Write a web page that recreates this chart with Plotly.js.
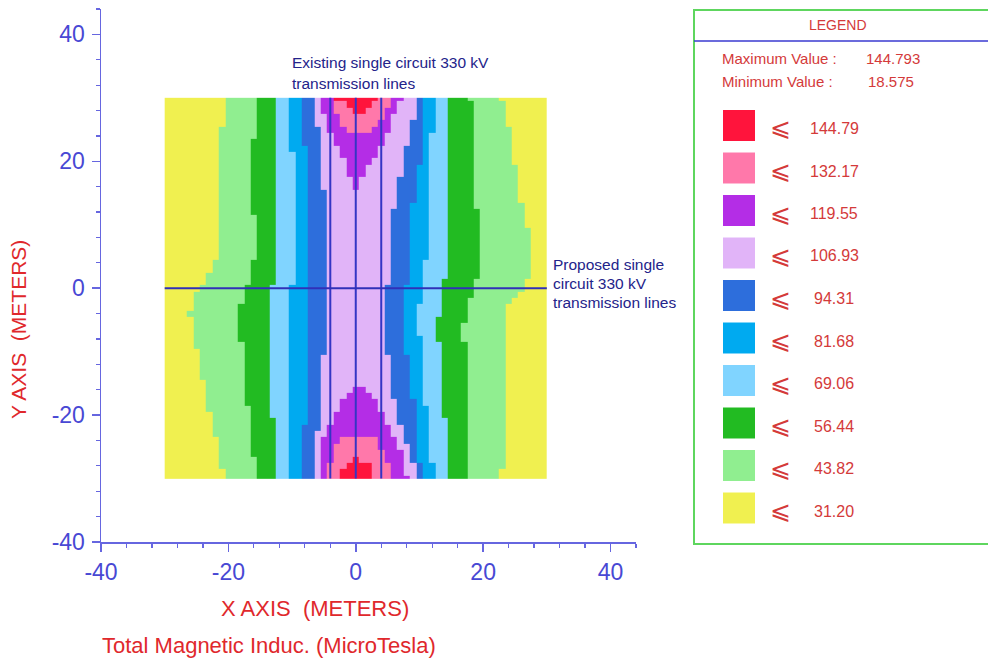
<!DOCTYPE html>
<html>
<head>
<meta charset="utf-8">
<script src="https://cdn.plot.ly/plotly-3.0.1.min.js"></script>
<style>
  html, body { margin: 0; padding: 0; background: #ffffff; }
  #chart { width: 988px; height: 662px; }
</style>
</head>
<body>
<div id="chart"></div>
<script>
// Total magnetic induction (microtesla) around two 330 kV circuits.
// Grid points every metre from -30 m to 30 m in both directions.
const gridX = [-30,-29,-28,-27,-26,-25,-24,-23,-22,-21,-20,-19,-18,-17,-16,-15,-14,-13,-12,-11,-10,-9,-8,-7,-6,-5,-4,-3,-2,-1,0,1,2,3,4,5,6,7,8,9,10,11,12,13,14,15,16,17,18,19,20,21,22,23,24,25,26,27,28,29,30];
// Rows listed from y = 30 m (north) down to y = -30 m (south).
const gridY = [30,29,28,27,26,25,24,23,22,21,20,19,18,17,16,15,14,13,12,11,10,9,8,7,6,5,4,3,2,1,0,-1,-2,-3,-4,-5,-6,-7,-8,-9,-10,-11,-12,-13,-14,-15,-16,-17,-18,-19,-20,-21,-22,-23,-24,-25,-26,-27,-28,-29,-30];

// Band thresholds (microtesla); band k holds values between levels[k] and levels[k+1].
const levels = [18.575, 31.20, 43.82, 56.44, 69.06, 81.68, 94.31, 106.93, 119.55, 132.17, 144.793];
const bandColors = ['#f0f050', '#90ee90', '#22bb22', '#80d4ff', '#00aaf0', '#2d6edc', '#e1b4f8', '#b42de6', '#ff78aa', '#ff143c'];

// Axis tick labels
const tickVals = [-40, -20, 0, 20, 40];
const tickText = ['-40', '-20', '0', '20', '40'];

// West side of each row: first x (m) reaching band 1..6.
const westBand1 = [-20,-20,-20,-20,-20,-21,-21,-21,-21,-21,-21,-21,-21,-21,-21,-21,-21,-21,-21,-21,-21,-21,-21,-21,-21,-21,-22,-22,-23,-23,-24,-25,-25,-25,-26,-25,-25,-25,-25,-25,-24,-24,-24,-24,-24,-23,-23,-23,-23,-23,-22,-22,-22,-22,-21,-21,-21,-21,-21,-20,-20];
const westBand2 = [-15,-15,-15,-15,-15,-15,-15,-16,-16,-16,-16,-16,-16,-16,-16,-16,-16,-16,-16,-15,-15,-15,-15,-15,-15,-15,-16,-16,-16,-16,-17,-17,-17,-18,-18,-18,-18,-18,-18,-17,-17,-17,-17,-17,-17,-17,-17,-17,-17,-16,-16,-16,-16,-16,-16,-16,-16,-15,-15,-15,-15];
const westBand3 = [-12,-12,-12,-12,-12,-12,-12,-12,-12,-12,-12,-12,-12,-12,-12,-12,-12,-12,-12,-12,-12,-12,-12,-12,-12,-12,-12,-12,-12,-12,-13,-13,-13,-13,-13,-13,-13,-13,-13,-13,-13,-13,-13,-13,-13,-13,-13,-13,-13,-13,-13,-12,-12,-12,-12,-12,-12,-12,-12,-12,-12];
const westBand4 = [-10,-10,-10,-10,-10,-10,-10,-10,-10,-9,-9,-9,-9,-9,-9,-9,-9,-9,-9,-9,-9,-9,-9,-9,-9,-9,-9,-9,-9,-9,-10,-10,-10,-10,-10,-10,-10,-10,-10,-10,-10,-10,-10,-10,-10,-10,-10,-10,-10,-10,-10,-10,-10,-10,-10,-10,-10,-10,-10,-10,-10];
const westBand5 = [-8,-8,-8,-8,-8,-8,-8,-8,-7,-7,-7,-7,-7,-7,-7,-7,-7,-7,-7,-7,-7,-7,-7,-7,-7,-7,-7,-7,-7,-7,-7,-7,-7,-7,-7,-7,-7,-7,-7,-7,-7,-7,-7,-7,-7,-7,-7,-7,-7,-7,-7,-7,-8,-8,-8,-8,-8,-8,-8,-8,-8];
const westBand6 = [-6,-6,-6,-6,-6,-5,-5,-5,-5,-5,-5,-5,-5,-5,-5,-4,-4,-4,-4,-4,-4,-4,-4,-4,-4,-4,-4,-4,-4,-4,-4,-4,-4,-4,-4,-4,-4,-4,-4,-4,-4,-5,-5,-5,-5,-5,-5,-5,-5,-5,-5,-5,-5,-6,-6,-6,-6,-6,-6,-6,-6];

// East side of each row: last x (m) still inside band 6..1.
const eastBand6 = [9,9,9,9,8,8,8,8,7,7,7,7,7,6,6,6,6,6,5,5,5,5,5,5,5,5,5,5,5,5,4,4,4,4,4,4,4,4,4,4,4,5,5,5,5,5,5,5,6,6,6,6,7,7,7,8,8,8,9,9,9];
const eastBand5 = [10,10,10,10,10,10,10,10,10,10,10,9,9,9,9,9,9,8,8,8,8,8,8,8,8,8,8,8,8,8,7,7,7,7,7,7,7,7,7,7,7,8,8,8,8,8,8,8,9,9,9,9,9,9,9,9,9,9,10,10,10];
const eastBand4 = [12,12,12,12,12,12,11,11,11,11,11,11,11,11,11,11,11,11,11,11,11,11,11,11,11,11,10,10,10,10,10,10,10,9,9,9,9,9,10,10,10,10,10,10,10,10,10,10,10,11,11,11,11,11,11,11,11,11,12,12,12];
const eastBand3 = [14,14,14,14,14,14,14,14,14,14,14,14,14,14,14,14,14,14,14,14,14,14,14,14,14,14,14,14,14,13,13,13,13,13,13,12,12,12,12,13,13,13,13,13,13,13,13,13,13,13,13,14,14,14,14,14,14,14,14,14,14];
const eastBand2 = [17,18,18,18,18,18,18,18,18,18,18,18,18,18,18,18,18,18,19,19,19,19,19,19,19,19,19,19,19,18,18,18,17,17,17,17,16,16,16,17,17,17,17,17,17,17,17,17,17,17,17,17,17,17,17,17,17,17,17,17,17];
const eastBand1 = [22,23,23,23,23,24,24,24,24,24,24,25,25,25,25,25,25,26,26,26,26,27,27,27,27,27,27,27,27,26,26,25,24,23,23,23,23,23,23,23,23,23,23,23,23,23,23,23,23,23,23,23,23,23,23,23,23,23,23,22,22];

// Hot cores near both ends of the existing corridor (null = band not reached).
const band7West = [-5,-5,-5,-4,-4,-4,-3,-3,-2,-2,-1,-1,-1,0,0,null,null,null,null,null,null,null,null,null,null,null,null,null,null,null,null,null,null,null,null,null,null,null,null,null,null,null,null,null,null,null,0,-1,-2,-2,-3,-3,-4,-4,-5,-5,-5,-5,-5,-5,-5];
const band7East = [7,6,6,5,5,5,4,4,3,3,2,1,1,0,0,null,null,null,null,null,null,null,null,null,null,null,null,null,null,null,null,null,null,null,null,null,null,null,null,null,null,null,null,null,null,null,1,2,3,3,4,4,5,5,6,6,7,7,7,7,8];
const band8West = [-3,-3,-3,-2,-2,-1,null,null,null,null,null,null,null,null,null,null,null,null,null,null,null,null,null,null,null,null,null,null,null,null,null,null,null,null,null,null,null,null,null,null,null,null,null,null,null,null,null,null,null,null,null,null,null,null,-2,-3,-3,-3,-4,-4,-4];
const band8East = [5,5,4,4,3,2,null,null,null,null,null,null,null,null,null,null,null,null,null,null,null,null,null,null,null,null,null,null,null,null,null,null,null,null,null,null,null,null,null,null,null,null,null,null,null,null,null,null,null,null,null,null,null,null,3,3,4,4,5,5,5];
const band9West = [-3,-1,0,null,null,null,null,null,null,null,null,null,null,null,null,null,null,null,null,null,null,null,null,null,null,null,null,null,null,null,null,null,null,null,null,null,null,null,null,null,null,null,null,null,null,null,null,null,null,null,null,null,null,null,null,null,null,0,-1,-2,-2];
const band9East = [3,2,1,null,null,null,null,null,null,null,null,null,null,null,null,null,null,null,null,null,null,null,null,null,null,null,null,null,null,null,null,null,null,null,null,null,null,null,null,null,null,null,null,null,null,null,null,null,null,null,null,null,null,null,null,null,null,0,2,2,2];

// Conductor positions (m).
const existingLinesX = [-4, 0, 4];
const proposedLinesY = [0];
const corridorSpan = [-30, 30];

// ---- build the band grid ----
const westEdges = [westBand1, westBand2, westBand3, westBand4, westBand5, westBand6];
const eastEdges = [eastBand1, eastBand2, eastBand3, eastBand4, eastBand5, eastBand6];
const coreWest = [band7West, band8West, band9West];
const coreEast = [band7East, band8East, band9East];
const bandValue = levels.slice(0, -1).map((lo, k) => (lo + levels[k + 1]) / 2);

const zRows = [];
for (let i = gridY.length - 1; i >= 0; i--) {       // south to north
  const row = [];
  for (const x of gridX) {
    let band = 0;
    for (let k = 0; k < 6; k++) {
      if (x >= westEdges[k][i] && x <= eastEdges[k][i]) band = k + 1;
    }
    for (let c = 0; c < 3; c++) {
      const w = coreWest[c][i], e = coreEast[c][i];
      if (w !== null && x >= w && x <= e) band = 7 + c;
    }
    row.push(bandValue[band]);
  }
  zRows.push(row);
}
const yAsc = gridY.slice().reverse();
function cellEdges(pts) {
  const out = [pts[0]];
  for (let i = 1; i < pts.length; i++) out.push((pts[i - 1] + pts[i]) / 2);
  out.push(pts[pts.length - 1]);
  return out;
}
const zMin = levels[0], zMax = levels[levels.length - 1];
const colorscale = [];
bandColors.forEach((c, k) => {
  colorscale.push([(levels[k] - zMin) / (zMax - zMin), c]);
  colorscale.push([(levels[k + 1] - zMin) / (zMax - zMin), c]);
});

const traces = [{
  type: 'heatmap',
  x: cellEdges(gridX),
  y: cellEdges(yAsc),
  z: zRows,
  zmin: zMin, zmax: zMax,
  colorscale: colorscale,
  zsmooth: false,
  showscale: false,
  hoverinfo: 'skip'
}];
existingLinesX.forEach(x => traces.push({
  type: 'scatter', mode: 'lines', x: [x, x], y: corridorSpan,
  line: { color: '#3535c4', width: 2 }, hoverinfo: 'skip', showlegend: false
}));
proposedLinesY.forEach(y => traces.push({
  type: 'scatter', mode: 'lines', x: corridorSpan, y: [y, y],
  line: { color: '#3030b8', width: 2 }, hoverinfo: 'skip', showlegend: false
}));

// ---- layout ----
const M = { l: 101, r: 352, t: 9, b: 120 };
const W = 988, H = 662;
const PW = W - M.l - M.r, PH = H - M.t - M.b;
const px = v => (v - M.l) / PW;            // page pixel -> paper x
const py = v => 1 - (v - M.t) / PH;        // page pixel -> paper y

const FONT = 'Liberation Sans, Arial, sans-serif';
const axisBlue = '#6666e0';
const tickBlue = '#4848d4';
const titleRed = '#e0282c';
const legendRed = '#d43a3a';
const noteNavy = '#23238a';

const annotations = [];
const shapes = [];
function note(text, x, y, size, color, opts) {
  annotations.push(Object.assign({
    text: text, xref: 'paper', yref: 'paper', x: px(x), y: py(y),
    xanchor: 'left', yanchor: 'middle', showarrow: false,
    font: { family: FONT, size: size, color: color }
  }, opts || {}));
}

note('Existing single circuit 330 kV', 290, 62, 15.5, noteNavy);
note('transmission lines', 290, 84, 15.5, noteNavy);
note('Proposed single', 551, 264, 15.5, noteNavy);
note('circuit 330 kV', 551, 283, 15.5, noteNavy);
note('transmission lines', 551, 302, 15.5, noteNavy);

note('X AXIS  (METERS)', 315, 608, 22, titleRed, { xanchor: 'center' });
note('Total Magnetic Induc. (MicroTesla)', 100, 645, 22, titleRed);
note('Y AXIS  (METERS)', 18, 330, 21, titleRed, { xanchor: 'center', textangle: -90 });

// legend panel
shapes.push({ type: 'rect', xref: 'paper', yref: 'paper', x0: px(694), x1: px(995), y0: py(544), y1: py(10),
  line: { color: '#5ed65e', width: 2 }, fillcolor: 'rgba(0,0,0,0)' });
shapes.push({ type: 'line', xref: 'paper', yref: 'paper', x0: px(694), x1: px(990), y0: py(41), y1: py(41),
  line: { color: '#3a3ad0', width: 1.5 } });
note('LEGEND', 838, 25, 14, legendRed, { xanchor: 'center' });
note('Maximum Value :', 720, 59, 15, legendRed);
note(String(zMax), 864, 59, 15, legendRed);
note('Minimum Value :', 720, 82, 15, legendRed);
note(String(zMin), 866, 82, 15, legendRed);
for (let k = 9; k >= 0; k--) {
  const cy = 125.5 + (9 - k) * 42.5;
  shapes.push({ type: 'rect', xref: 'paper', yref: 'paper', x0: px(723), x1: px(755), y0: py(cy + 15.5), y1: py(cy - 15.5),
    line: { width: 0 }, fillcolor: bandColors[k] });
  note('\u2A7D', 780, cy + 2, 25, legendRed, { xanchor: 'center' });
  note(levels[k + 1].toFixed(2), 834, cy + 3, 16, legendRed, { xanchor: 'center' });
}

const axisCommon = {
  range: [-40, 44], tickmode: 'array', tickvals: tickVals, ticktext: tickText,
  showgrid: false, zeroline: false, showline: true,
  linecolor: axisBlue, linewidth: 1.5,
  ticks: 'outside', ticklen: 8, tickwidth: 1.5, tickcolor: axisBlue,
  tickfont: { family: FONT, size: 23, color: tickBlue },
  minor: { tickmode: 'linear', tick0: 0, dtick: 4, ticks: 'outside', ticklen: 4, tickwidth: 1.2, tickcolor: axisBlue, showgrid: false },
  fixedrange: true
};

const layout = {
  width: W, height: H, margin: M,
  paper_bgcolor: '#ffffff', plot_bgcolor: '#ffffff',
  showlegend: false,
  xaxis: Object.assign({}, axisCommon, { ticklabelstandoff: 1 }),
  yaxis: Object.assign({}, axisCommon, { ticklabelstandoff: 2 }),
  annotations: annotations,
  shapes: shapes
};

Plotly.newPlot('chart', traces, layout, { staticPlot: true, displayModeBar: false });
</script>
</body>
</html>
